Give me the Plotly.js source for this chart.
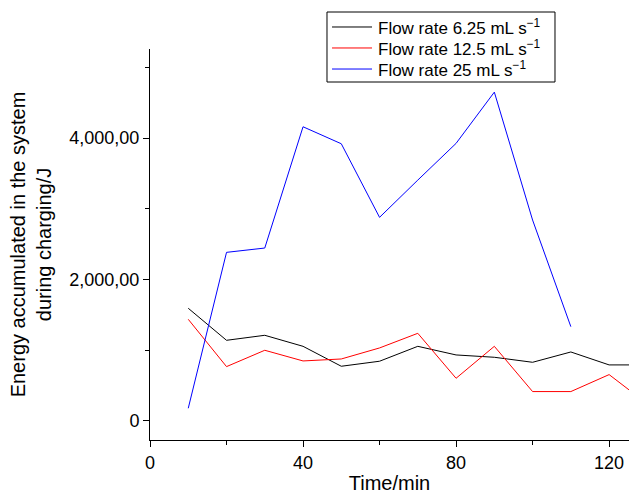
<!DOCTYPE html>
<html>
<head>
<meta charset="utf-8">
<script src="https://cdn.plot.ly/plotly-3.0.1.min.js"></script>
<style>html,body{margin:0;padding:0;background:#fff;}#chart{width:630px;height:499px;}</style>
</head>
<body>
<div id="chart"></div>
<script>
var timeMin = [10, 20, 30, 40, 50, 60, 70, 80, 90, 100, 110, 120, 130];
var flow625 = [1593, 1140, 1211, 1055, 773, 844, 1055, 933, 900, 829, 975, 792, 792];
var flow125 = [1437, 768, 999, 848, 876, 1032, 1239, 603, 1055, 415, 415, 655, 240];
var timeBlue = [10, 20, 30, 40, 50, 60, 70, 80, 90, 100, 110];
var flow25 = [179, 2384, 2445, 4160, 3920, 2879, 3406, 3925, 4650, 2841, 1333];
var seriesNames = ['Flow rate 6.25 mL s<sup>\u22121</sup>', 'Flow rate 12.5 mL s<sup>\u22121</sup>', 'Flow rate 25 mL s<sup>\u22121</sup>'];
var seriesColors = ['#000000', '#ff0000', '#0000ff'];
var yTickVals = [0, 2000, 4000];
var yTickText = ['0', '2,000,00', '4,000,00'];
var xTickVals = [0, 40, 80, 120];

var font = 'Liberation Sans, Arial, sans-serif';
var seriesX = [timeMin, timeMin, timeBlue];
var seriesY = [flow625, flow125, flow25];
var traces = seriesY.map(function (ys, i) {
  return {x: seriesX[i], y: ys, name: seriesNames[i], mode: 'lines', line: {color: seriesColors[i], width: 1}, showlegend: false};
});

// legend drawn in paper coordinates (box, sample lines, labels)
var legRowY = [1.0563, 1.0026, 0.9488];
var shapes = [{type: 'rect', xref: 'paper', yref: 'paper', x0: 0.3695, x1: 0.8455, y0: 0.9156, y1: 1.0946,
               line: {color: '#000', width: 1}, fillcolor: 'rgba(0,0,0,0)'}];
var annotations = [];
seriesNames.forEach(function (nm, i) {
  shapes.push({type: 'line', xref: 'paper', yref: 'paper', x0: 0.380, x1: 0.4635, y0: legRowY[i], y1: legRowY[i],
               line: {color: seriesColors[i], width: 1}});
  annotations.push({xref: 'paper', yref: 'paper', x: 0.4718, y: legRowY[i], xanchor: 'left', yanchor: 'middle',
                    text: nm, showarrow: false, font: {family: font, size: 17, color: '#000'}});
});

var layout = {
  width: 630, height: 499,
  margin: {l: 150, r: 1, t: 49, b: 59, pad: 0},
  paper_bgcolor: '#fff', plot_bgcolor: '#fff',
  font: {family: font, color: '#000', size: 18},
  showlegend: false,
  shapes: shapes,
  annotations: annotations,
  xaxis: {
    range: [0, 125.2], showgrid: false, zeroline: false, showline: true, linecolor: '#000', linewidth: 1,
    ticks: 'outside', ticklen: 6, tickwidth: 1, tickcolor: '#000',
    tickmode: 'array', tickvals: xTickVals, ticktext: xTickVals.map(String),
    tickfont: {family: font, size: 18, color: '#000'},
    minor: {tickvals: [20, 60, 100], ticks: 'outside', ticklen: 4, tickcolor: '#000', tickwidth: 1, showgrid: false},
    title: {text: 'Time/min', font: {family: font, size: 20, color: '#000'}, standoff: 4}
  },
  yaxis: {
    range: [-270, 5260], showgrid: false, zeroline: false, showline: true, linecolor: '#000', linewidth: 1,
    ticks: 'outside', ticklen: 6, tickwidth: 1, tickcolor: '#000',
    tickmode: 'array', tickvals: yTickVals, ticktext: yTickText,
    tickfont: {family: font, size: 18, color: '#000'},
    minor: {tickvals: [1000, 3000, 5000], ticks: 'outside', ticklen: 4, tickcolor: '#000', tickwidth: 1, showgrid: false},
    title: {text: 'Energy accumulated in the system<br>during charging/J', font: {family: font, size: 20, color: '#000'}, standoff: 12}
  }
};
Plotly.newPlot('chart', traces, layout, {staticPlot: true, displayModeBar: false});
</script>
</body>
</html>
